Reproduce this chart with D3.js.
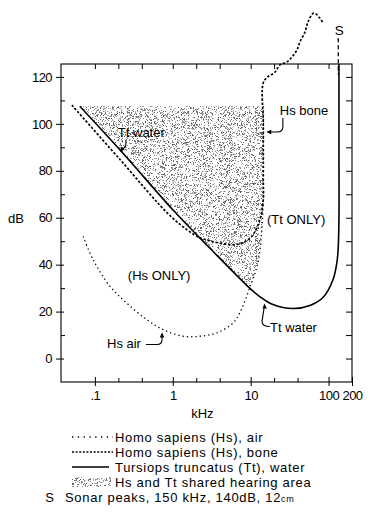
<!DOCTYPE html>
<html><head><meta charset="utf-8">
<script src="https://cdn.jsdelivr.net/npm/d3@7"></script>
<style>
html,body{margin:0;padding:0;background:#fff;}
svg{display:block;font-family:"Liberation Sans",Arial,sans-serif;}
</style></head><body>
<svg id="chart" width="377" height="518"></svg>
<script>
// Hearing thresholds: frequency (kHz), level (dB)
const ttWater = [[0.064,107.5],[0.222,88],[1,63.4],[3,47],[9.7,30],[13.1,26.4],[19.3,23],[34.9,21.3],[57.6,22.6],[84.7,26],[114,33.6],[128,41],[133,47],[136,60],[136,90],[136,125.5]];
const hsBone = [[0.0506,108],[0.2,85.6],[1,59.8],[2.2,51.5],[2.74,50.6],[3.27,49.8],[5.92,48.5],[7.95,49.4],[10.3,52],[13.1,59.1],[14.5,67.7],[14.5,76],[14.5,100],[14.5,117.4],[16.6,120],[20.5,122],[23.8,125.1],[29.2,126.4],[33.9,128.5],[39.3,131.5],[42.9,134.9],[49.8,139.1],[54.4,143.4],[63.6,147.1],[68.9,146.8],[77.5,145],[85.5,142.9]];
const hsAir = [[0.0706,52],[0.095,42.1],[0.156,30.8],[0.255,23.7],[0.461,16.6],[0.753,12.3],[1.36,9.5],[2.23,9.5],[3.66,10.9],[5.97,15.2],[7.28,19.6],[9.7,30],[12.4,40.9],[13.9,54.9],[14.5,68.9],[14.6,90],[14.6,107.5]];
const sharedCeiling = 107.5;   // upper edge of the shared hearing area
const crossover = 9.7;          // kHz where Hs air meets Tt water
const sonarPeak = {f:150, db:140, label:"S"};

const xMajorTicks = [0.1,1,10,100,200];
const xMajorLabels = [".1","1","10","100","200"];
const xMinorTicks = [0.2,0.4,2,4,20,40];
const xTopTicks = [0.1,0.2,0.4,1,2,4,10,20,40,100];
const yLabelTicks = [0,20,40,60,80,100,120];
const yMinorTicks = [10,30,50,70,90,110];
const yRightTicks = [0,10,20,30,40,50,60,70,80,90,100,110,120];

const legendLabels = ["Homo sapiens (Hs), air","Homo sapiens (Hs), bone","Tursiops truncatus (Tt), water","Hs and Tt  shared hearing area"];
const sonarLegend = ["Sonar peaks, 150 kHz, 140dB, 12","cm"];

const svg = d3.select("#chart");
const L = 61, R = 352, T = 64, B = 382;
const x = d3.scaleLog().domain([0.0367,200]).range([L,R]);
const y = d3.scaleLinear().domain([-10,125.5]).range([B,T]);

// stipple texture tile (deterministic hash, grey specks on transparent)
function stippleTile(size, density){
  const c = document.createElement("canvas"); c.width = size; c.height = size;
  const ctx = c.getContext("2d"); const img = ctx.createImageData(size,size);
  const fract = v => v - Math.floor(v);
  for (let j=0;j<size;j++) for (let i=0;i<size;i++){
    const h1 = fract(Math.sin(i*12.9898 + j*78.233)*43758.5453);
    const h2 = fract(Math.sin(i*39.3467 + j*11.135)*24634.6345);
    const k = (j*size+i)*4;
    if (h1 < density){ const g = Math.round(80 + 110*h2); img.data[k]=g; img.data[k+1]=g; img.data[k+2]=g; img.data[k+3]=255; }
  }
  ctx.putImageData(img,0,0);
  return c.toDataURL();
}
const defs = svg.append("defs");
const tileSize = 128;
defs.append("pattern").attr("id","stipple").attr("patternUnits","userSpaceOnUse")
  .attr("width",tileSize).attr("height",tileSize)
  .append("image").attr("href",stippleTile(tileSize,0.27)).attr("width",tileSize).attr("height",tileSize)
  .style("image-rendering","pixelated");

const curve = d3.curveCatmullRom.alpha(0.5);
const line = d3.line().x(d=>x(d[0])).y(d=>y(d[1])).curve(curve);

// shared area: above Tt water, above Hs air, below the ceiling
const ttSeg = ttWater.filter(d=>d[0]<=crossover);
const airSeg = hsAir.filter(d=>d[0]>=crossover);
svg.append("path")
  .attr("d", line(ttSeg) + line(airSeg).replace(/^M/,"L") + "Z")
  .attr("fill","url(#stipple)");

// frame
svg.append("rect").attr("x",L).attr("y",T).attr("width",R-L).attr("height",B-T)
  .attr("fill","none").attr("stroke","#000").attr("stroke-width",1.1);

const axisStyle = g => { g.select(".domain").remove(); g.selectAll("line").attr("stroke","#000").attr("stroke-width",1);
  g.selectAll("text").attr("fill","#000").attr("font-family","Liberation Sans, Arial, sans-serif").attr("font-size",13).attr("letter-spacing",-0.6); };

// bottom axis
svg.append("g").attr("transform",`translate(0,${B})`)
  .call(d3.axisBottom(x).tickValues(xMajorTicks).tickFormat((d,i)=>xMajorLabels[i]).tickSizeInner(4).tickSizeOuter(0).tickPadding(5))
  .call(axisStyle).call(g=>g.selectAll(".tick line").attr("y1",-5));
svg.append("g").attr("transform",`translate(0,${B})`)
  .call(d3.axisBottom(x).tickValues(xMinorTicks).tickFormat("").tickSizeInner(-4).tickSizeOuter(0))
  .call(axisStyle);
// top axis
svg.append("g").attr("transform",`translate(0,${T})`)
  .call(d3.axisTop(x).tickValues(xTopTicks).tickFormat("").tickSizeInner(-5).tickSizeOuter(0))
  .call(axisStyle);
// left axis
svg.append("g").attr("transform",`translate(${L},0)`)
  .call(d3.axisLeft(y).tickValues(yLabelTicks).tickSizeInner(5).tickSizeOuter(0).tickPadding(4))
  .call(axisStyle).call(g=>g.selectAll(".tick line").attr("x2",3).attr("x1",-5));
svg.append("g").attr("transform",`translate(${L},0)`)
  .call(d3.axisLeft(y).tickValues(yMinorTicks).tickFormat("").tickSizeInner(-4).tickSizeOuter(0))
  .call(axisStyle);
// right axis
svg.append("g").attr("transform",`translate(${R},0)`)
  .call(d3.axisRight(y).tickValues(yRightTicks).tickFormat("").tickSizeInner(-6).tickSizeOuter(0))
  .call(axisStyle);

// axis titles
svg.append("text").attr("x",x(2.4)).attr("y",B+36).attr("text-anchor","middle").attr("font-size",13).text("kHz");
svg.append("text").attr("x",8).attr("y",y(60)+5).attr("font-size",13).text("dB");

// threshold curves
svg.append("path").attr("d",line(hsAir)).attr("fill","none").attr("stroke","#000").attr("stroke-width",1.3).attr("stroke-dasharray","1.3,3");
svg.append("path").attr("d",line(hsBone)).attr("fill","none").attr("stroke","#000").attr("stroke-width",1.7).attr("stroke-dasharray","2.4,1.8");
svg.append("path").attr("d",line(ttWater)).attr("fill","none").attr("stroke","#000").attr("stroke-width",1.6);

// sonar peak marker
svg.append("text").attr("x",x(sonarPeak.f)-3).attr("y",y(sonarPeak.db)+5).attr("text-anchor","middle").attr("font-size",13.5).text(sonarPeak.label);
svg.append("line").attr("x1",x(sonarPeak.f)-4).attr("x2",x(sonarPeak.f)-4).attr("y1",y(sonarPeak.db-3.5)).attr("y2",y(121))
  .attr("stroke","#000").attr("stroke-width",1.3).attr("stroke-dasharray","4,3");

// annotations
const ann = [
  {t:"Hs bone", f:23.7, db:103.8},
  {t:"Tt water", f:0.197, db:94.5},
  {t:"(Tt ONLY)", f:16.2, db:57.5},
  {t:"(Hs ONLY)", f:0.265, db:33.6},
  {t:"Tt water", f:17.7, db:11.5},
  {t:"Hs air", f:0.143, db:4.3}
];
ann.forEach(a=>svg.append("text").attr("x",x(a.f)).attr("y",y(a.db)).attr("font-size",13).text(a.t));

function arrow(tx,ty,ang){
  const l=5,w=2.2,c=Math.cos(ang),s=Math.sin(ang);
  const bx=tx-l*c, by=ty-l*s;
  svg.append("path").attr("d",`M${tx},${ty}L${bx-w*s},${by+w*c}L${bx+w*s},${by-w*c}Z`).attr("fill","#000");
}
function pointer(d){ svg.append("path").attr("d",d).attr("fill","none").attr("stroke","#000").attr("stroke-width",1.1); }
// Hs bone
{ const ax=x(23.7)+3, ay=y(103.8)+3, tip=x(14.5)+3;
  pointer(`M${ax},${ay}L${ax},${ay+9}Q${ax},${ay+14} ${ax-6},${ay+14}L${tip+3},${ay+14}`); arrow(tip,ay+14,Math.PI); }
// Tt water (upper)
{ const ax=x(0.197)+8, ay=y(94.5)+3;
  pointer(`M${ax},${ay}Q${ax+1},${ay+7} ${ax-3},${ay+9}`); arrow(ax-6,ay+12,Math.PI*0.72); }
// Tt water (lower)
{ const ax=x(17.7)-2, ay=y(11.5)-5;
  pointer(`M${ax+2},${ay}Q${ax-6},${ay} ${ax-6},${ay-5}L${ax-4},${ay-18}`); arrow(ax-3.6,ay-23,-Math.PI/2*1.04); }
// Hs air
{ const ax=x(0.143)+39, ay=y(4.3)-4;
  pointer(`M${ax},${ay}L${ax+11},${ay}Q${ax+16},${ay} ${ax+16},${ay-5}L${ax+16},${ay-8}`); arrow(ax+16,ay-12,-Math.PI/2); }

// legend
const lx0=72, lx1=113, rows=[437,452,467,482,497];
const lg = svg.append("g").attr("font-size",13).attr("letter-spacing",0.7);
lg.append("line").attr("x1",lx0).attr("x2",lx1).attr("y1",rows[0]).attr("y2",rows[0]).attr("stroke","#000").attr("stroke-width",1.3).attr("stroke-dasharray","1.3,4.5");
lg.append("line").attr("x1",lx0).attr("x2",lx1).attr("y1",rows[1]).attr("y2",rows[1]).attr("stroke","#000").attr("stroke-width",1.4).attr("stroke-dasharray","2,1.6");
lg.append("line").attr("x1",lx0).attr("x2",lx1-4).attr("y1",rows[2]).attr("y2",rows[2]).attr("stroke","#000").attr("stroke-width",1.5);
lg.append("rect").attr("x",lx0).attr("y",rows[3]-5).attr("width",lx1-lx0-2).attr("height",10).attr("fill","url(#stipple)");
legendLabels.forEach((t,i)=>lg.append("text").attr("x",lx1+2).attr("y",rows[i]+4.5).text(t));
lg.append("text").attr("x",50).attr("y",rows[4]+4.5).attr("text-anchor","middle").text("S");
const st = lg.append("text").attr("x",65).attr("y",rows[4]+4.5).text(sonarLegend[0]);
st.append("tspan").attr("font-size",9).text(sonarLegend[1]);
</script></body></html>
